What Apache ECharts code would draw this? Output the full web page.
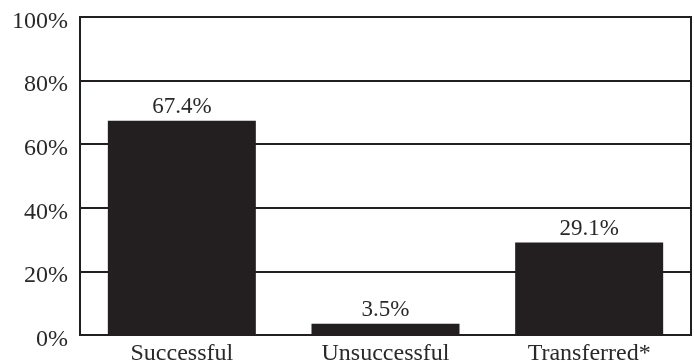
<!DOCTYPE html>
<html>
<head>
<meta charset="utf-8">
<script src="https://cdn.jsdelivr.net/npm/echarts@6/dist/echarts.min.js"></script>
<style>
  html, body { margin: 0; padding: 0; background: #fff; }
  #chart { width: 694px; height: 362px; }
</style>
</head>
<body>
<div id="chart"></div>
<script>
var categories = ['Successful', 'Unsuccessful', 'Transferred*'];
var values = [67.4, 3.5, 29.1];
var yTicks = [0, 20, 40, 60, 80, 100];

var ink = '#231f20';
var textInk = '#2b2829';
var font = '"Liberation Serif", "DejaVu Serif", serif';

var myChart = echarts.init(document.getElementById('chart'));
myChart.setOption({
    backgroundColor: '#fff',
    animation: false,
    grid: {
        left: 80,
        right: 3,
        top: 17,
        bottom: 27,
        outerBoundsMode: 'none',
        containLabel: false,
        show: true,
        borderColor: ink,
        borderWidth: 2
    },
    xAxis: {
        type: 'category',
        data: categories,
        axisLine: { lineStyle: { color: ink, width: 2 } },
        axisTick: { show: false },
        axisLabel: {
            color: textInk,
            fontFamily: font,
            fontSize: 24,
            margin: 7
        }
    },
    yAxis: {
        type: 'value',
        min: yTicks[0],
        max: yTicks[yTicks.length - 1],
        interval: 20,
        axisLine: { show: true, lineStyle: { color: ink, width: 2 } },
        axisTick: { show: false },
        splitLine: { lineStyle: { color: ink, width: 2 } },
        axisLabel: {
            margin: 12,
            formatter: function (v) { return '{t|' + v + '%}'; },
            rich: {
                t: {
                    color: textInk,
                    fontFamily: font,
                    fontSize: 24,
                    padding: [9, 0, 0, 0]
                }
            }
        }
    },
    series: [{
        type: 'bar',
        data: values,
        barWidth: 148,
        itemStyle: { color: ink },
        label: {
            show: true,
            position: 'top',
            distance: 2,
            color: textInk,
            fontFamily: font,
            fontSize: 23,
            formatter: function (p) { return p.value.toFixed(1) + '%'; }
        }
    }]
});
</script>
</body>
</html>
